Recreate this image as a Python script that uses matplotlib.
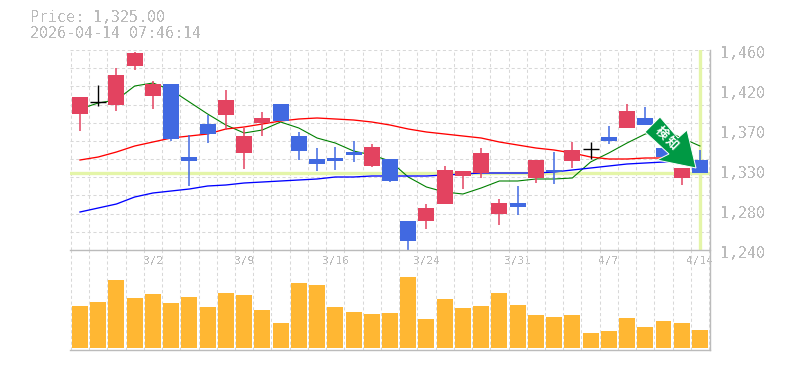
import matplotlib
matplotlib.use("Agg")
import matplotlib.pyplot as plt
from matplotlib.patches import Polygon

opens  = [1390,1402.5,1399.5,1442.4,1409.4,1422.6,1342.3,1378.6,1388.5,1346.7,1379.7,1400.6,1365.4,1340.1,1341.2,1347.8,1332.4,1340.1,1271.9,1271.9,1290.6,1321.4,1324.7,1279.6,1291.7,1319.2,1328,1337.9,1351.1,1364.3,1374.2,1385.2,1352.2,1319.2,1339]
closes = [1408.3,1402.5,1432.5,1456.7,1422.6,1362.1,1337.9,1367.6,1405,1365.4,1385.2,1381.9,1348.9,1334.6,1337.9,1344.5,1353.3,1315.9,1249.9,1286.2,1328,1326.9,1346.7,1291.7,1287.3,1339,1325.8,1350,1351.1,1359.9,1392.9,1377.5,1342.3,1330.2,1325]
highs  = [1408.3,1421.5,1440.2,1458,1425.9,1422.6,1366.5,1388.5,1416,1374.2,1391.8,1400.6,1369.8,1352.2,1353.3,1359.9,1356.6,1340.1,1271.9,1290.6,1332.4,1326.9,1352.2,1296.1,1310.4,1339,1347.8,1358.8,1358.8,1376.4,1400.6,1397.3,1352.2,1330.2,1350]
lows   = [1370.9,1398.4,1392.9,1438,1395.1,1359.9,1310.4,1357.7,1372,1329.1,1365.4,1381.9,1339,1326.9,1328,1336.8,1331.3,1314.8,1239,1263.1,1290.6,1307.1,1319.2,1267.5,1278.5,1313.7,1312.6,1330.2,1340.1,1356.6,1374.2,1377.5,1342.3,1311.5,1325]
ma_short = [1395.1,1401.7,1405,1420.4,1423.7,1416,1402.8,1389.6,1377.5,1368.7,1372,1380.8,1374.2,1363.2,1357.7,1348.9,1344.5,1337.9,1320.3,1309.3,1303.8,1301.6,1308.2,1315.9,1315.9,1318.1,1318.1,1319.2,1336.8,1346.7,1357.7,1367.6,1372,1363.2,1354.4]
ma_mid   = [1339,1342.3,1347.8,1354.4,1358.8,1363.2,1365.4,1367.6,1373.1,1375.3,1378.6,1381.9,1384.1,1385.2,1384.1,1383,1380.8,1377.5,1373.1,1369.8,1367.6,1365.4,1363.2,1358.8,1355.5,1352.2,1350,1346.7,1342.3,1340.1,1340.1,1341.2,1341.2,1341.2]
ma_long  = [1281.8,1286.2,1290.6,1298.3,1302.7,1304.9,1307.1,1310.4,1311.5,1313.7,1314.8,1315.9,1317,1318.1,1320.3,1320.3,1321.4,1321.4,1321.4,1321.4,1322.5,1323.6,1324.7,1324.7,1324.7,1324.7,1325.8,1328,1330.2,1332.4,1334.6,1335.7,1336.8,1337.9]
volumes  = [42,46,68,50,54,45,51,41,55,53,38,25,65,63,41,36,34,35,71,29,49,40,42,55,43,33,31,33,15,17,30,21,27,25,18]
doji = [1,28]
price_ticks = [1460,1416,1372,1328,1284,1240]
price_labels = ["1,460","1,420","1,370","1,330","1,280","1,240"]
date_idx = [4,9,14,19,24,29,34]
date_labels = ["3/2","3/9","3/16","3/24","3/31","4/7","4/14"]
current_price = 1325
header = ["Price: 1,325.00","2026-04-14 07:46:14"]
badge_chars = ["検","知"]

UP="#e34360"; DOWN="#4169e1"; DOJI="#000000"
GRID="#d8d8d8"; AXC="#bbbbbb"; PALE="#e4f5a8"; VOL="#ffb733"; ARROW="#009944"
W,H=785,370
MONO="DejaVu Sans Mono"
plt.rcParams['text.antialiased']=False
fig=plt.figure(figsize=(W/100,H/100),dpi=100)
def rect(l,t,r,b): return [l/W,1-b/H,(r-l)/W,(b-t)/H]
ax=fig.add_axes(rect(70,50,710,250))
av=fig.add_axes(rect(70,250,710,350))
n=len(volumes)
xlim=(-0.548,34.55)
DASH=(0,(3,2.5))
for a in (ax,av):
    a.set_xlim(*xlim)
    a.patch.set_alpha(0)
    for s in a.spines.values(): s.set_visible(False)
    a.tick_params(length=0,labelbottom=False,labelleft=False,labelright=False)
    for i in range(n+1):
        a.axvline(i-0.5,color=GRID,lw=0.75,ls=DASH,zorder=0,snap=True)
ax.set_ylim(1240,1460)
av.set_ylim(-1.7,98.3)
for k in range(12):
    ax.axhline(1240+20*k,color=GRID,lw=0.75,ls=DASH,zorder=0,snap=True)
ax.axhline(current_price,color=PALE,lw=2.4,zorder=1)
ax.axvline(n-1,color=PALE,lw=2.4,zorder=1)

for i in range(n):
    o,c,h,l=opens[i],closes[i],highs[i],lows[i]
    if i in doji:
        ax.plot([i,i],[l,h],color=DOJI,lw=1.0,zorder=4,solid_capstyle='butt')
        ax.plot([i-0.44,i+0.44],[c,c],color=DOJI,lw=1.0,zorder=4,solid_capstyle='butt')
        continue
    col=UP if c>o else DOWN
    ax.plot([i,i],[l,h],color=col,lw=1.1,zorder=4,solid_capstyle='butt',clip_on=False)
    ax.bar(i,abs(c-o),bottom=min(o,c),width=0.877,color=col,lw=0,zorder=4,clip_on=False)

ax.plot(range(len(ma_short)),ma_short,color="#008000",lw=0.8,zorder=3)
ax.plot(range(len(ma_mid)),ma_mid,color="#ff0000",lw=0.95,zorder=3)
ax.plot(range(len(ma_long)),ma_long,color="#0000ff",lw=0.95,zorder=3)

av.bar(range(n),volumes,width=0.877,color=VOL,lw=0,zorder=2)

for y in (250,350):
    fig.add_artist(plt.Line2D([70/W,710/W],[1-y/H]*2,color=AXC,lw=1.0))
fig.add_artist(plt.Line2D([710/W,710/W],[1-50/H,1-350/H],color=AXC,lw=1.0))

for v,t in zip(price_ticks,price_labels):
    ax.annotate(t,xy=(1,v),xycoords=ax.get_yaxis_transform(),xytext=(10,-3),textcoords='offset pixels',
                color=AXC,fontsize=10.8,family=MONO,va='center',ha='left',annotation_clip=False)
for i,t in zip(date_idx,date_labels):
    ax.annotate(t,xy=(i,1240),xycoords='data',xytext=(0,-11),textcoords='offset pixels',
                color=AXC,fontsize=8,family=MONO,va='center',ha='center',annotation_clip=False,zorder=6)
fig.text(30/W,1-18/H,header[0],color=AXC,fontsize=10.8,family=MONO,va='center')
fig.text(30/W,1-33/H,header[1],color=AXC,fontsize=10.8,family=MONO,va='center')

pts=[(660,117),(645,132),(669,154),(657,160),(696,168),(687,130),(678,138)]
fig.add_artist(Polygon([(x/W,1-y/H) for x,y in pts],closed=True,transform=fig.transFigure,facecolor=ARROW,edgecolor='white',lw=0.7,zorder=8))
for ch,(cx,cy) in zip(badge_chars,[(661.7,133.3),(671.7,143.3)]):
    fig.text(cx/W,1-cy/H,ch,color="white",fontsize=9,fontweight='bold',family="Noto Sans CJK JP",rotation=-45,rotation_mode='anchor',ha='center',va='center',zorder=9,antialiased=True)
fig.savefig("out.png",dpi=100)
